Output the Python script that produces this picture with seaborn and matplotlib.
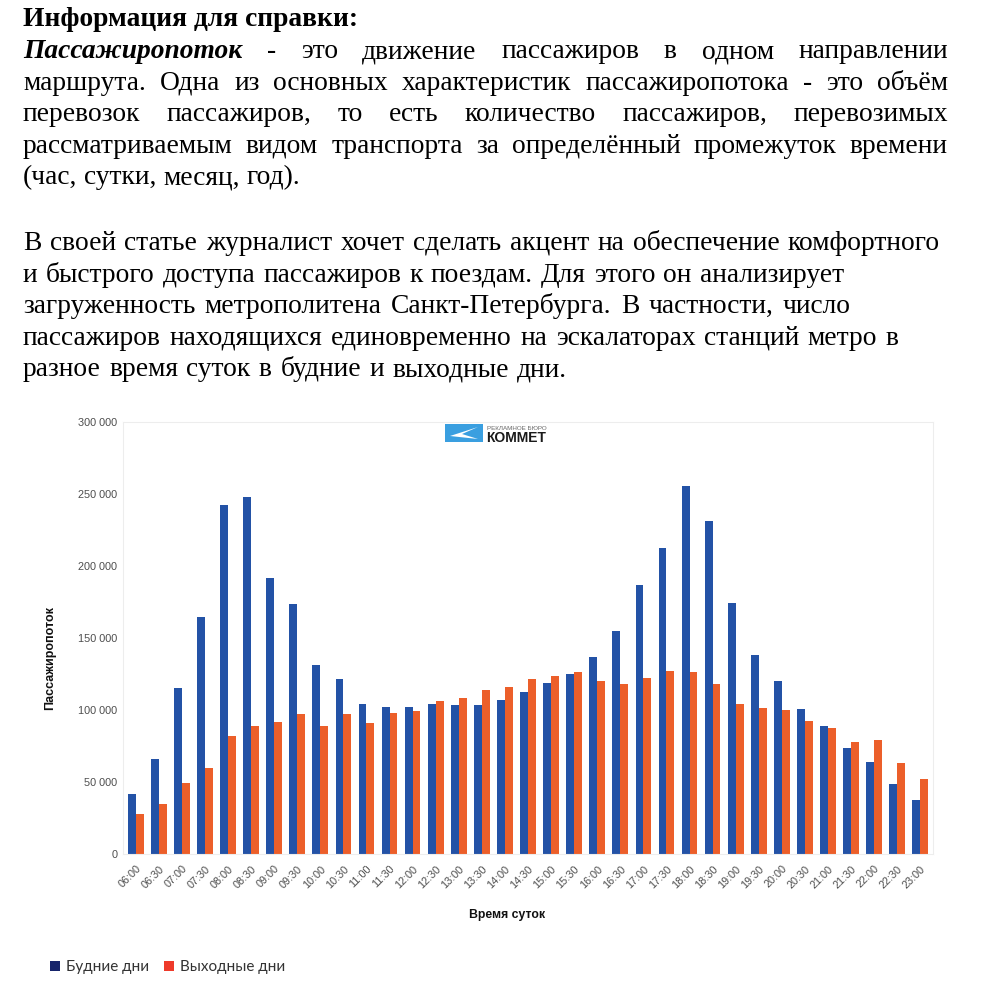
import numpy as np
import pandas as pd
import matplotlib
matplotlib.use('Agg')
import matplotlib.pyplot as plt
import seaborn as sns
from matplotlib.patches import Patch, Rectangle, Polygon

times = ['06:00', '06:30', '07:00', '07:30', '08:00', '08:30', '09:00', '09:30',
         '10:00', '10:30', '11:00', '11:30', '12:00', '12:30', '13:00', '13:30',
         '14:00', '14:30', '15:00', '15:30', '16:00', '16:30', '17:00', '17:30',
         '18:00', '18:30', '19:00', '19:30', '20:00', '20:30', '21:00', '21:30',
         '22:00', '22:30', '23:00']
weekdays = [41900, 65700, 115000, 164600, 242100, 247900, 191900, 173600,
            131500, 121500, 103900, 102100, 102100, 103900, 103500, 103500,
            106700, 112500, 119000, 125200, 136600, 155100, 186600, 212500,
            255600, 231000, 174300, 138400, 120100, 100500, 88900, 73400,
            63700, 48400, 37300]
weekends = [28000, 35000, 49100, 59500, 82200, 89100, 91400, 97200,
            89100, 97000, 90700, 97700, 99500, 106500, 108100, 113700,
            116000, 121500, 123900, 126200, 120400, 118100, 122500, 126900,
            126600, 118100, 103900, 101600, 100000, 92600, 87300, 77800,
            79400, 63000, 52300]
series_names = ['Будние дни', 'Выходные дни']

df = pd.DataFrame({
    'time': times * 2,
    'value': weekdays + weekends,
    'series': [series_names[0]] * len(times) + [series_names[1]] * len(times),
})

W, H = 1000, 998
fig = plt.figure(figsize=(W / 100, H / 100), dpi=100)
fig.patch.set_facecolor('white')
renderer = fig.canvas.get_renderer()


def fy(px):
    return 1 - px / H


serif = dict(family='Liberation Serif', size=19.8, color='black')


def put_line(words, x0, x1, base, justify=True):
    # words: list of (text, weight, style)
    objs = []
    for w, weight, style in words:
        t = fig.text(0, fy(base), w, va='baseline', ha='left',
                     fontweight=weight, fontstyle=style, **serif)
        objs.append(t)
    widths = [t.get_window_extent(renderer).width for t in objs]
    if justify and len(objs) > 1:
        gap = (x1 - x0 - sum(widths)) / (len(objs) - 1)
    else:
        sp = fig.text(0, 0, 'a a', **serif)
        sp2 = fig.text(0, 0, 'aa', **serif)
        gap = sp.get_window_extent(renderer).width - sp2.get_window_extent(renderer).width
        sp.remove()
        sp2.remove()
    x = x0
    for t, wd in zip(objs, widths):
        t.set_x(x / W)
        x += wd + gap


def plain(s):
    return [(w, 'normal', 'normal') for w in s.split()]


left = 23
fig.text(left / W, fy(26), 'Информация для справки:', va='baseline', ha='left',
         fontweight='bold', **serif)

para1 = [
    [('Пассажиропоток', 'bold', 'italic')] + plain('- это движение пассажиров в одном направлении'),
    plain('маршрута. Одна из основных характеристик пассажиропотока - это объём'),
    plain('перевозок пассажиров, то есть количество пассажиров, перевозимых'),
    plain('рассматриваемым видом транспорта за определённый промежуток времени'),
    plain('(час, сутки, месяц, год).'),
]
for i, line in enumerate(para1):
    put_line(line, left, 948, 58 + 31.6 * i, justify=(i < 4))

para2 = [
    'В своей статье журналист хочет сделать акцент на обеспечение комфортного',
    'и быстрого доступа пассажиров к поездам. Для этого он анализирует',
    'загруженность метрополитена Санкт-Петербурга. В частности, число',
    'пассажиров находящихся единовременно на эскалаторах станций метро в',
    'разное время суток в будние и выходные дни.',
]
right2 = [940, 844, 851, 899, 567]
for i, line in enumerate(para2):
    put_line(plain(line), left, right2[i], 250 + 31.6 * i)

# chart
blue = '#2352A6'
orange = '#EC5F2A'
ax = fig.add_axes([123 / W, fy(854), 810 / W, 432 / H])
sns.barplot(data=df, x='time', y='value', hue='series', palette=[blue, orange],
            width=0.68, saturation=1, legend=False, ax=ax, linewidth=0)
ax.set_xlim(-0.55, len(times) - 0.45)
ax.set_ylim(0, 300000)
ax.set_yticks(np.arange(0, 300001, 50000))
ax.set_yticklabels([f'{v:,}'.replace(',', ' ') for v in range(0, 300001, 50000)])
for s in ax.spines.values():
    s.set_color('#EDEDED')
    s.set_linewidth(0.8)
ax.tick_params(axis='both', length=0, colors='#4d4d4d', labelsize=7.8)
ax.tick_params(axis='y', pad=4)
ax.tick_params(axis='x', pad=7)
for lab in ax.get_xticklabels():
    lab.set_rotation(45)
    lab.set_ha('right')
    lab.set_rotation_mode('anchor')
    lab.set_family('Liberation Sans')
for lab in ax.get_yticklabels():
    lab.set_family('Liberation Sans')
ax.set_xlabel('')
ax.set_ylabel('')
fig.text(50 / W, fy(658), 'Пассажиропоток', rotation=90, ha='center', va='center',
         fontsize=9, fontweight='bold', family='Liberation Sans', color='#111111')
fig.text(507 / W, fy(915), 'Время суток', ha='center', va='center',
         fontsize=8.8, fontweight='bold', family='Liberation Sans', color='#111111')

# logo
fig.patches.append(Rectangle((445 / W, fy(442)), 38 / W, 18 / H, transform=fig.transFigure,
                             facecolor='#3A9FE0', edgecolor='none'))
fig.patches.append(Polygon([(450 / W, fy(436)), (478 / W, fy(427)), (462 / W, fy(434)),
                            (478 / W, fy(439))], closed=True, transform=fig.transFigure,
                           facecolor='white', edgecolor='none'))
fig.text(487 / W, fy(428), 'РЕКЛАМНОЕ БЮРО', ha='left', va='center', fontsize=4.5,
         family='Liberation Sans', color='#666666')
fig.text(486 / W, fy(438.5), 'КОММЕТ', ha='left', va='center', fontsize=10,
         fontweight='bold', family='Liberation Sans', color='#1a1a1a')

# legend
handles = [Patch(facecolor='#16246B', edgecolor='none'), Patch(facecolor='#EE3A2A', edgecolor='none')]
fig.legend(handles, series_names, loc='center left', bbox_to_anchor=(50 / W, fy(967)),
           ncol=2, frameon=False, handlelength=0.65, handleheight=0.65, handletextpad=0.4,
           columnspacing=1.0, prop={'family': 'Lato', 'size': 11}, labelcolor='#333333',
           borderaxespad=0, borderpad=0)

fig.savefig('out.png', dpi=100, facecolor='white')
